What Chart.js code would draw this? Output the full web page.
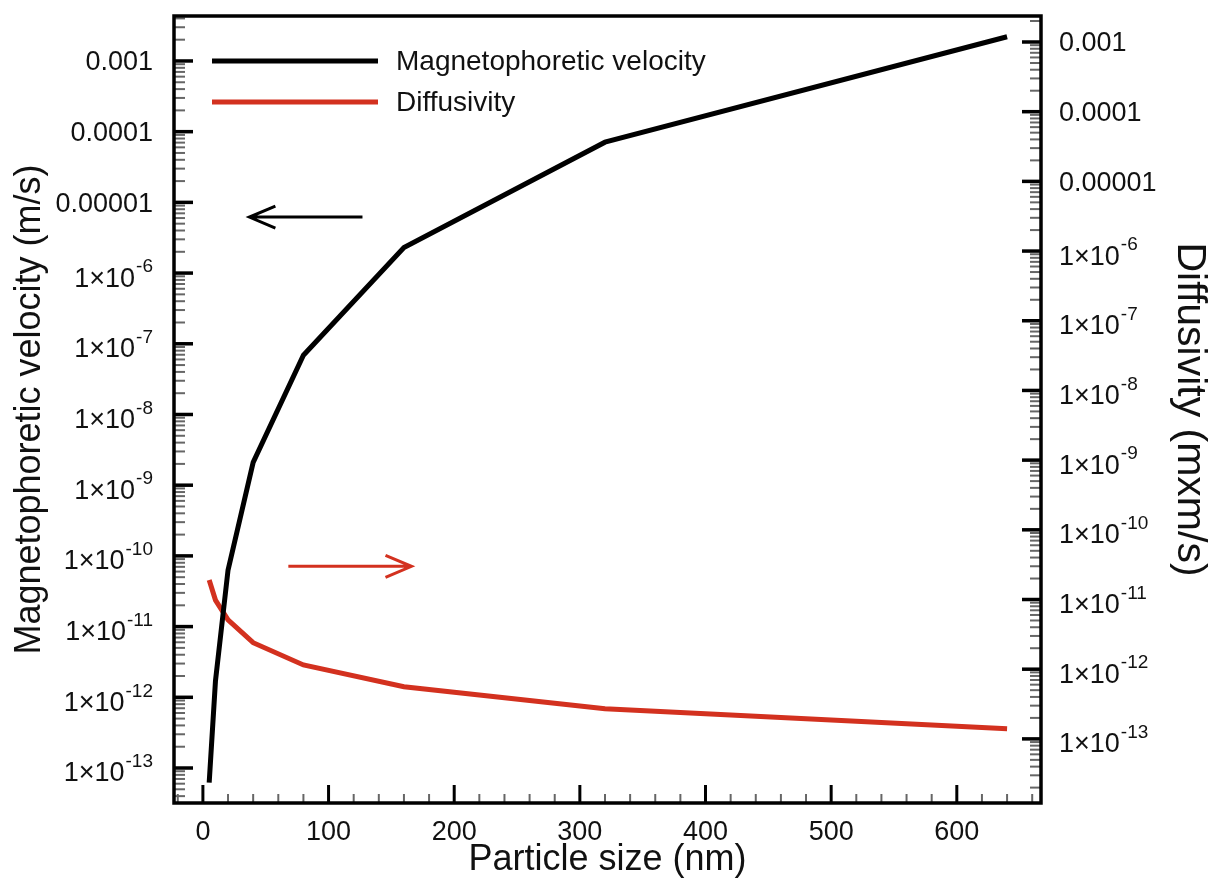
<!DOCTYPE html>
<html>
<head>
<meta charset="utf-8">
<script src="https://cdn.jsdelivr.net/npm/chart.js@4/dist/chart.umd.min.js"></script>
<style>
  html, body { margin: 0; padding: 0; background: #fff; }
  #wrap { width: 1214px; height: 892px; }
</style>
</head>
<body>
<div id="wrap"><canvas id="myChart" width="1214" height="892"></canvas></div>
<script>
/* data */
const particleSize = [5, 10, 20, 40, 80, 160, 320, 640];
const velocity = [6.2e-14, 1.7e-12, 6.3e-11, 2.1e-9, 6.9e-8, 2.3e-6, 7.1e-5, 2.2e-3];
const diffusivity = [1.9e-11, 9.8e-12, 5.1e-12, 2.4e-12, 1.15e-12, 5.6e-13, 2.7e-13, 1.4e-13];

/* tick values and labels ("^" marks the exponent part) */
const xTicks = [0, 100, 200, 300, 400, 500, 600];
const decadeTicks = [1e-13, 1e-12, 1e-11, 1e-10, 1e-9, 1e-8, 1e-7, 1e-6, 1e-5, 1e-4, 1e-3];
const decadeLabels = ['1×10^-13', '1×10^-12', '1×10^-11', '1×10^-10', '1×10^-9', '1×10^-8',
  '1×10^-7', '1×10^-6', '0.00001', '0.0001', '0.001'];

const seriesLabels = ['Magnetophoretic velocity', 'Diffusivity'];
const seriesColors = ['#000000', '#d3311f'];

/* arrows pointing at each series' axis (data coordinates) */
const arrows = [
  { axis: 'yL', from: 127, to: 37, at: 6.2e-6, color: '#000000' },
  { axis: 'yR', from: 68, to: 166, at: 3.0e-11, color: '#d3311f' }
];

const FONT = 'Liberation Sans, Arial, Helvetica, sans-serif';

function logTickValues(min, max) {
  const out = [];
  for (let e = Math.floor(Math.log10(min)); e <= Math.ceil(Math.log10(max)); e++) {
    for (let m = 1; m <= 9; m++) {
      const v = m * Math.pow(10, e);
      if (v >= min && v <= max) out.push({ v: v, major: m === 1 });
    }
  }
  return out;
}

function noPadding(scale) {
  scale.paddingTop = 0;
  scale.paddingBottom = 0;
  scale.paddingLeft = 0;
  scale.paddingRight = 0;
}

/* tick label with a raised exponent */
function drawDecadeLabel(ctx, text, x, y, align) {
  const parts = text.split('^');
  ctx.font = '27px ' + FONT;
  const wBase = ctx.measureText(parts[0]).width;
  let wExp = 0;
  if (parts[1]) {
    ctx.font = '19px ' + FONT;
    wExp = ctx.measureText(parts[1]).width + 1;
  }
  const x0 = align === 'right' ? x - wBase - wExp : x;
  const yBase = parts[1] ? y + 6 : y + 2;
  ctx.textAlign = 'left';
  ctx.textBaseline = 'middle';
  ctx.font = '27px ' + FONT;
  ctx.fillText(parts[0], x0, yBase);
  if (parts[1]) {
    ctx.font = '19px ' + FONT;
    ctx.fillText(parts[1], x0 + wBase + 1, yBase - 12);
  }
}

/* frame plus inward ticks, like the original plot */
const framePlugin = {
  id: 'frame',
  afterDraw: function (chart) {
    const ctx = chart.ctx;
    const a = chart.chartArea;
    ctx.save();
    ctx.lineCap = 'butt';

    // left axis ticks
    const yL = chart.scales.yL;
    logTickValues(yL.min, yL.max).forEach(function (t) {
      const y = yL.getPixelForValue(t.v);
      ctx.lineWidth = t.major ? 3.5 : 2;
      ctx.strokeStyle = t.major ? '#000' : '#666';
      ctx.beginPath();
      ctx.moveTo(a.left, y);
      ctx.lineTo(a.left + (t.major ? 19 : 11), y);
      ctx.stroke();
    });

    // right axis ticks
    const yR = chart.scales.yR;
    logTickValues(yR.min, yR.max).forEach(function (t) {
      const y = yR.getPixelForValue(t.v);
      ctx.lineWidth = t.major ? 3.5 : 2;
      ctx.strokeStyle = t.major ? '#000' : '#666';
      ctx.beginPath();
      ctx.moveTo(a.right, y);
      ctx.lineTo(a.right - (t.major ? 19 : 11), y);
      ctx.stroke();
    });

    // bottom axis ticks
    const x = chart.scales.x;
    for (let v = -20; v <= x.max; v += 20) {
      if (v < x.min) continue;
      const px = x.getPixelForValue(v);
      const major = v % 100 === 0;
      ctx.lineWidth = major ? 3 : 2;
      ctx.strokeStyle = major ? '#000' : '#666';
      ctx.beginPath();
      ctx.moveTo(px, a.bottom);
      ctx.lineTo(px, a.bottom - (major ? 18 : 9));
      ctx.stroke();
    }

    // box
    ctx.strokeStyle = '#000';
    ctx.lineWidth = 3.5;
    ctx.strokeRect(a.left, a.top, a.right - a.left, a.bottom - a.top);

    // y tick labels
    ctx.fillStyle = '#111';
    decadeTicks.forEach(function (v, i) {
      drawDecadeLabel(ctx, decadeLabels[i], a.left - 21, yL.getPixelForValue(v), 'right');
      drawDecadeLabel(ctx, decadeLabels[i], a.right + 18, yR.getPixelForValue(v), 'left');
    });

    // legend inside the plot
    chart.data.datasets.forEach(function (ds, i) {
      const y = a.top + 45 + i * 41;
      ctx.strokeStyle = ds.borderColor;
      ctx.lineWidth = 5;
      ctx.beginPath();
      ctx.moveTo(a.left + 38, y);
      ctx.lineTo(a.left + 204, y);
      ctx.stroke();
      ctx.fillStyle = '#111';
      ctx.font = '28px ' + FONT;
      ctx.textBaseline = 'middle';
      ctx.textAlign = 'left';
      ctx.fillText(ds.label, a.left + 222, y + 1);
    });
    ctx.restore();
  },
  afterDatasetsDraw: function (chart) {
    const ctx = chart.ctx;
    const x = chart.scales.x;
    ctx.save();
    arrows.forEach(function (ar) {
      const y = chart.scales[ar.axis].getPixelForValue(ar.at);
      const x0 = x.getPixelForValue(ar.from);
      const x1 = x.getPixelForValue(ar.to);
      const dir = x1 > x0 ? 1 : -1;
      ctx.strokeStyle = ar.color;
      ctx.lineWidth = 3;
      ctx.beginPath();
      ctx.moveTo(x0, y);
      ctx.lineTo(x1, y);
      ctx.moveTo(x1 - dir * 26, y - 11);
      ctx.lineTo(x1, y);
      ctx.lineTo(x1 - dir * 26, y + 11);
      ctx.stroke();
    });
    ctx.restore();
  }
};

const ctx = document.getElementById('myChart').getContext('2d');

const chart = new Chart(ctx, {
  type: 'line',
  data: {
    datasets: [{
      label: seriesLabels[0],
      data: particleSize.map(function (d, i) { return { x: d, y: velocity[i] }; }),
      borderColor: seriesColors[0],
      borderWidth: 5,
      pointRadius: 0,
      yAxisID: 'yL'
    },
    {
      label: seriesLabels[1],
      data: particleSize.map(function (d, i) { return { x: d, y: diffusivity[i] }; }),
      borderColor: seriesColors[1],
      borderWidth: 5,
      pointRadius: 0,
      yAxisID: 'yR'
    }]
  },
  options: {
    responsive: false,
    animation: false,
    devicePixelRatio: 1,
    layout: { padding: { top: 16, left: 0, right: 0, bottom: 0 } },
    plugins: { legend: { display: false }, tooltip: { enabled: false } },
    scales: {
      x: {
        type: 'linear',
        min: -23,
        max: 667,
        grid: { display: false, drawTicks: false },
        border: { display: false },
        afterBuildTicks: function (scale) {
          scale.ticks = xTicks.map(function (v) { return { value: v }; });
        },
        afterFit: function (scale) { scale.height = 89; noPadding(scale); },
        ticks: {
          padding: 13,
          maxRotation: 0,
          autoSkip: false,
          color: '#111',
          font: { family: FONT, size: 27 },
          callback: function (v) { return String(v); }
        },
        title: {
          display: true,
          text: 'Particle size (nm)',
          color: '#111',
          font: { family: FONT, size: 36 },
          padding: { top: 0, bottom: 10 }
        }
      },
      yL: {
        type: 'logarithmic',
        position: 'left',
        min: Math.pow(10, -13.495),
        max: Math.pow(10, -2.364),
        grid: { display: false, drawTicks: false },
        border: { display: false },
        afterFit: function (scale) { scale.width = 174; noPadding(scale); },
        ticks: { display: false },
        title: {
          display: true,
          text: 'Magnetophoretic velocity (m/s)',
          color: '#111',
          font: { family: FONT, size: 36 },
          padding: { top: 8, bottom: 0 }
        }
      },
      yR: {
        type: 'logarithmic',
        position: 'right',
        min: Math.pow(10, -13.92),
        max: Math.pow(10, -2.627),
        grid: { display: false, drawTicks: false },
        border: { display: false },
        afterFit: function (scale) { scale.width = 173; noPadding(scale); },
        ticks: { display: false },
        title: {
          display: true,
          text: 'Diffusivity (mxm/s)',
          color: '#111',
          font: { family: FONT, size: 41 },
          padding: { top: 0, bottom: 0 }
        }
      }
    }
  },
  plugins: [framePlugin]
});
</script>
</body>
</html>
